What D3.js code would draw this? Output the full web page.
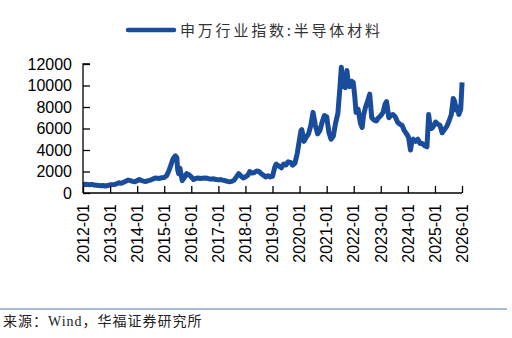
<!DOCTYPE html>
<html><head><meta charset="utf-8">
<script src="https://cdn.jsdelivr.net/npm/d3@7"></script>
<style>
html,body{margin:0;padding:0;background:#fff;}
svg{display:block;}
</style></head>
<body>
<svg id="chart" width="512" height="338"></svg>
<script>
// ---- data ----
const seriesName = "申万行业指数:半导体材料";
const sourceText = "来源：Wind，华福证券研究所";
const dates = [
"2012-01-01","2012-02-01","2012-03-01","2012-04-01","2012-05-01","2012-06-01","2012-07-01","2012-08-01","2012-09-01","2012-10-01","2012-11-01","2012-12-01",
"2013-01-01","2013-02-01","2013-03-01","2013-04-01","2013-05-01","2013-06-01","2013-07-01","2013-08-01","2013-09-01","2013-10-01","2013-11-01","2013-12-01",
"2014-01-01","2014-02-01","2014-03-01","2014-04-01","2014-05-01","2014-06-01","2014-07-01","2014-08-01","2014-09-01","2014-10-01","2014-11-01","2014-12-01",
"2015-01-01","2015-02-01","2015-03-01","2015-04-01","2015-05-01","2015-06-01","2015-06-20","2015-07-01","2015-07-15","2015-08-01","2015-08-20","2015-09-01","2015-10-01","2015-11-01","2015-12-01",
"2016-01-01","2016-02-01","2016-03-01","2016-04-01","2016-05-01","2016-06-01","2016-07-01","2016-08-01","2016-09-01","2016-10-01","2016-11-01","2016-12-01",
"2017-01-01","2017-02-01","2017-03-01","2017-04-01","2017-05-01","2017-06-01","2017-07-01","2017-08-01","2017-09-01","2017-10-01","2017-11-01","2017-12-01",
"2018-01-01","2018-02-01","2018-03-01","2018-04-01","2018-05-01","2018-06-01","2018-07-01","2018-08-01","2018-09-01","2018-10-01","2018-11-01","2018-12-01",
"2019-01-01","2019-02-01","2019-02-20","2019-03-01","2019-04-01","2019-05-01","2019-06-01","2019-07-01","2019-08-01","2019-09-01","2019-10-01","2019-11-01","2019-12-01",
"2020-01-01","2020-01-20","2020-02-01","2020-03-01","2020-04-01","2020-05-01","2020-06-01","2020-07-01","2020-07-20","2020-08-01","2020-09-01","2020-10-01","2020-11-01","2020-12-01",
"2021-01-01","2021-02-01","2021-03-01","2021-04-01","2021-05-01","2021-06-01","2021-07-01","2021-07-18","2021-08-05","2021-08-25","2021-09-10","2021-10-01","2021-10-20","2021-11-10","2021-12-01","2021-12-25",
"2022-01-15","2022-02-01","2022-03-01","2022-04-01","2022-04-25","2022-05-15","2022-06-10","2022-07-10","2022-08-05","2022-09-01","2022-10-01","2022-11-01","2022-12-01",
"2023-01-01","2023-02-01","2023-03-01","2023-03-20","2023-04-20","2023-05-15","2023-06-15","2023-07-15","2023-08-15","2023-09-15","2023-10-15","2023-11-15","2023-12-15",
"2024-01-10","2024-02-06","2024-02-25","2024-03-15","2024-04-15","2024-05-15","2024-06-15","2024-07-15","2024-08-15","2024-09-15","2024-10-08","2024-10-25","2024-11-15","2024-12-10",
"2025-01-10","2025-02-10","2025-03-10","2025-04-08","2025-05-10","2025-06-10","2025-07-10","2025-08-10","2025-09-05","2025-09-25","2025-10-15","2025-11-01","2025-11-20","2025-12-15","2026-01-02"
];
const values = [
780,820,800,760,800,740,720,700,680,700,640,700,
760,780,800,850,950,900,1000,1100,1200,1150,1080,1050,
1150,1250,1150,1100,1080,1150,1200,1300,1400,1380,1350,1420,
1450,1600,2000,2600,3200,3450,3300,2200,1800,2300,1600,1150,1450,1800,1700,
1500,1250,1350,1400,1350,1380,1400,1380,1300,1300,1320,1250,
1220,1250,1200,1150,1080,1050,1080,1200,1500,1800,1600,1400,
1500,1650,2000,1850,1900,2050,2000,1800,1650,1500,1600,1500,
1550,2400,2700,2600,2500,2350,2700,2600,2900,2850,2600,2800,3700,
5000,5800,5900,4800,5200,5500,6300,7500,6800,6300,5500,5800,6600,7200,
7100,5600,5000,5300,6500,7400,10000,11700,9900,10200,9800,11400,10200,9900,10400,10300,
9000,7500,7800,6500,6100,7300,8000,8600,9200,7000,6800,6700,7000,
7200,7500,8300,8500,7000,7200,7300,7100,6600,6400,6300,5800,5500,
5200,4000,4800,5000,4800,5000,4600,4600,4400,4300,7300,6300,6000,6200,
6600,6400,6300,5600,5900,6200,6700,7300,8800,8500,7700,8000,7300,7800,10300
];
const yTicks = [0,2000,4000,6000,8000,10000,12000];
const xTickLabels = ["2012-01","2013-01","2014-01","2015-01","2016-01","2017-01","2018-01","2019-01","2020-01","2021-01","2022-01","2023-01","2024-01","2025-01","2026-01"];

// ---- drawing ----
const svg = d3.select("#chart");
const W = 512, H = 338;
const x0 = 83, x1 = 462, yTop = 64, yBot = 193;
const parse = d3.timeParse("%Y-%m-%d");
const parseM = d3.timeParse("%Y-%m");
const data = dates.map((d,i)=>({date:parse(d), value:values[i]}));

const x = d3.scaleTime().domain([parseM("2012-01"), parseM("2026-01")]).range([x0, x1]);
const y = d3.scaleLinear().domain([0, 12000]).range([yBot, yTop]);

svg.append("rect").attr("width",W).attr("height",H).attr("fill","#fff");

const lineColor = "#1a4c9c";

// legend
svg.append("line").attr("x1",128).attr("x2",174).attr("y1",30).attr("y2",30)
  .attr("stroke",lineColor).attr("stroke-width",4.5).attr("stroke-linecap","round");
svg.append("text").attr("x",180).attr("y",35.5)
  .attr("font-family","'Noto Sans CJK SC'").attr("font-size",15)
  .attr("letter-spacing","2.8px").attr("fill","#333").text(seriesName);

// line
const line = d3.line().x(d=>x(d.date)).y(d=>y(d.value)).curve(d3.curveLinear);
svg.append("path").datum(data).attr("d",line).attr("fill","none")
  .attr("stroke",lineColor).attr("stroke-width",5).attr("stroke-linejoin","round");

// y axis
const yAxis = d3.axisRight(y).tickValues(yTicks).tickSize(7).tickFormat("");
const gy = svg.append("g").attr("transform",`translate(${x0},0)`).call(yAxis);
gy.select(".domain").attr("d",`M7,${yTop}H0V${yBot}`);
gy.selectAll("line,path").attr("stroke","#000").attr("stroke-width",1.3);
svg.append("g").selectAll("text").data(yTicks).join("text")
  .attr("x",72).attr("y",d=>y(d)).attr("dy","0.36em").attr("text-anchor","end")
  .attr("font-family","'Liberation Sans',Arial,sans-serif").attr("font-size",16).attr("fill","#000")
  .text(d=>d);

// x axis
const xTicks = xTickLabels.map(s=>parseM(s));
const xAxis = d3.axisTop(x).tickValues(xTicks).tickSize(7).tickFormat("");
const gx = svg.append("g").attr("transform",`translate(0,${yBot})`).call(xAxis);
gx.select(".domain").attr("d",`M${x0},0H${x1}`);
gx.selectAll("line,path").attr("stroke","#000").attr("stroke-width",1.3);
svg.append("g").selectAll("text").data(xTickLabels).join("text")
  .attr("transform",s=>`translate(${x(parseM(s))},204) rotate(-90)`)
  .attr("dy","0.36em").attr("text-anchor","end")
  .attr("font-family","'Liberation Sans',Arial,sans-serif").attr("font-size",16).attr("fill","#000")
  .text(s=>s);

// source
svg.append("line").attr("x1",0).attr("x2",507).attr("y1",309).attr("y2",309)
  .attr("stroke","#4f78b8").attr("stroke-width",1.2);
svg.append("text").attr("x",3).attr("y",326)
  .attr("font-family","'Liberation Serif','Noto Sans CJK SC',serif").attr("font-size",14)
  .attr("letter-spacing","1px").attr("fill","#222").text(sourceText);
</script>
</body></html>
